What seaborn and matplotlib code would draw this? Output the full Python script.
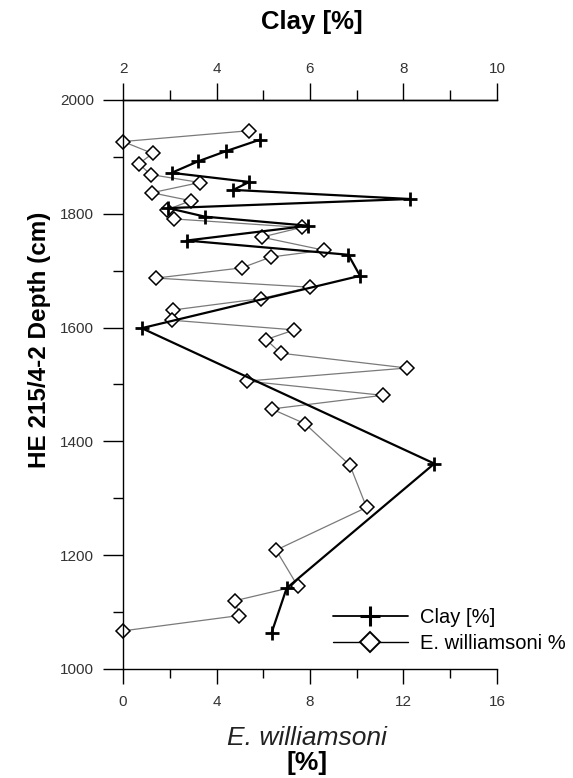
import matplotlib
matplotlib.use("Agg")
import matplotlib.pyplot as plt
import seaborn as sns
import pandas as pd
from matplotlib.ticker import MultipleLocator
from matplotlib.lines import Line2D

# ---- data ----
depth_clay = [1930, 1910, 1892, 1872, 1856, 1842, 1826, 1810, 1795, 1779,
              1753, 1728, 1691, 1599, 1361, 1142, 1064]
clay = [4.92, 4.20, 3.60, 3.04, 4.70, 4.36, 8.14, 2.97, 3.75, 5.96,
        3.36, 6.82, 7.07, 2.40, 8.66, 5.50, 5.18]

depth_ew = [1946, 1927, 1906, 1888, 1869, 1855, 1837, 1823, 1807, 1791,
            1776, 1759, 1736, 1724, 1705, 1687, 1671, 1651, 1631, 1613,
            1596, 1579, 1555, 1529, 1506, 1481, 1457, 1431, 1358, 1284,
            1209, 1146, 1120, 1094, 1067]
ew = [5.39, 0.0, 1.27, 0.68, 1.18, 3.29, 1.23, 2.90, 1.87, 2.18,
      7.64, 5.93, 8.60, 6.32, 5.08, 1.41, 8.0, 5.90, 2.15, 2.08,
      7.33, 6.12, 6.75, 12.15, 5.29, 11.11, 6.36, 7.79, 9.71, 10.42,
      6.55, 7.47, 4.79, 4.98, 0.0]

bottom_ticks = [0, 4, 8, 12, 16]
top_ticks = [2, 4, 6, 8, 10]
depth_ticks = [1000, 1200, 1400, 1600, 1800, 2000]

labels = {"clay": "Clay [%]", "ew": "E. williamsoni %"}

sns.set_theme(style="ticks")
plt.rcParams['font.family'] = ['Liberation Sans', 'DejaVu Sans']
plt.rcParams['text.color'] = 'black'
plt.rcParams['axes.labelcolor'] = 'black'

PX = 0.72  # points per pixel at 100 dpi

W, H = 573, 778
fig = plt.figure(figsize=(W / 100, H / 100), dpi=100)
L, R, T, B = 123, 497, 100, 669
ax = fig.add_axes([L / W, 1 - B / H, (R - L) / W, (B - T) / H])
ax2 = ax.twiny()

df_ew = pd.DataFrame({"val": ew, "depth": depth_ew})
df_clay = pd.DataFrame({"val": clay, "depth": depth_clay})

sns.lineplot(data=df_ew, x="val", y="depth", sort=False, estimator=None, ax=ax,
             color="#7a7a7a", lw=0.9, marker="D", markersize=7.5,
             markerfacecolor="white", markeredgecolor="black",
             markeredgewidth=1.1, clip_on=False, legend=False)
sns.lineplot(data=df_clay, x="val", y="depth", sort=False, estimator=None, ax=ax2,
             color="black", lw=1.6, marker="+", markersize=10,
             markeredgecolor="black", markeredgewidth=2.0,
             clip_on=False, legend=False)

ax.set_xlim(0, 16)
ax2.set_xlim(2, 10)
ax.set_ylim(1000, 2000)

ax.set_xticks(bottom_ticks)
ax.xaxis.set_minor_locator(MultipleLocator(2))
ax2.set_xticks(top_ticks)
ax2.xaxis.set_minor_locator(MultipleLocator(1))
ax.set_yticks(depth_ticks)
ax.yaxis.set_minor_locator(MultipleLocator(100))

for a in (ax, ax2):
    a.set_xlabel("")
    a.set_ylabel("")
    a.spines['right'].set_visible(False)
    for s in a.spines.values():
        s.set_linewidth(1.0)
        s.set_color("black")
ax2.spines['bottom'].set_visible(False)
ax2.spines['left'].set_visible(False)
ax.spines['top'].set_visible(True)

tick_col = "#333333"
ax.tick_params(axis='x', which='major', direction='out', length=15 * PX, width=1.0,
               pad=11 * PX, labelsize=11, labelcolor=tick_col, color="black")
ax.tick_params(axis='x', which='minor', direction='out', length=9 * PX, width=1.0, color="black")
ax2.tick_params(axis='x', which='major', direction='out', length=17 * PX, width=1.0,
                pad=7 * PX, labelsize=11, labelcolor=tick_col, color="black")
ax2.tick_params(axis='x', which='minor', direction='out', length=10 * PX, width=1.0, color="black")
ax.tick_params(axis='y', which='major', direction='out', length=20 * PX, width=1.0,
               pad=9 * PX, labelsize=11, labelcolor=tick_col, color="black")
ax.tick_params(axis='y', which='minor', direction='out', length=10 * PX, width=1.0, color="black")

# titles / labels
fig.text(312 / W, 1 - 22 / H, "Clay [%]", ha="center", va="center",
         fontsize=18.5, fontweight="bold", color="black")
fig.text(40 / W, 1 - 340 / H, "HE 215/4-2 Depth (cm)", ha="center", va="center",
         rotation=90, fontsize=17.5, fontweight="bold", color="black")
fig.text(307 / W, 1 - 738 / H, "E. williamsoni", ha="center", va="center",
         fontsize=19, fontstyle="italic", color="#222222")
fig.text(307 / W, 1 - 763 / H, "[%]", ha="center", va="center",
         fontsize=19, fontweight="bold", color="black")

handles = [
    Line2D([], [], color="black", lw=1.3, marker="+", markersize=15,
           markeredgecolor="black", markeredgewidth=2.2),
    Line2D([], [], color="black", lw=1.0, marker="D", markersize=10,
           markerfacecolor="white", markeredgecolor="black", markeredgewidth=1.4),
]
leg = ax2.legend(handles, [labels["clay"], labels["ew"]],
                 loc="upper left", bbox_to_anchor=(333 / W, 1 - 608 / H),
                 bbox_transform=fig.transFigure, frameon=False, fontsize=14.5,
                 handlelength=3.7, handletextpad=0.6, labelspacing=0.35,
                 borderpad=0, borderaxespad=0)
for t in leg.get_texts():
    t.set_color("black")

fig.savefig("out.png", dpi=100, facecolor="white")
